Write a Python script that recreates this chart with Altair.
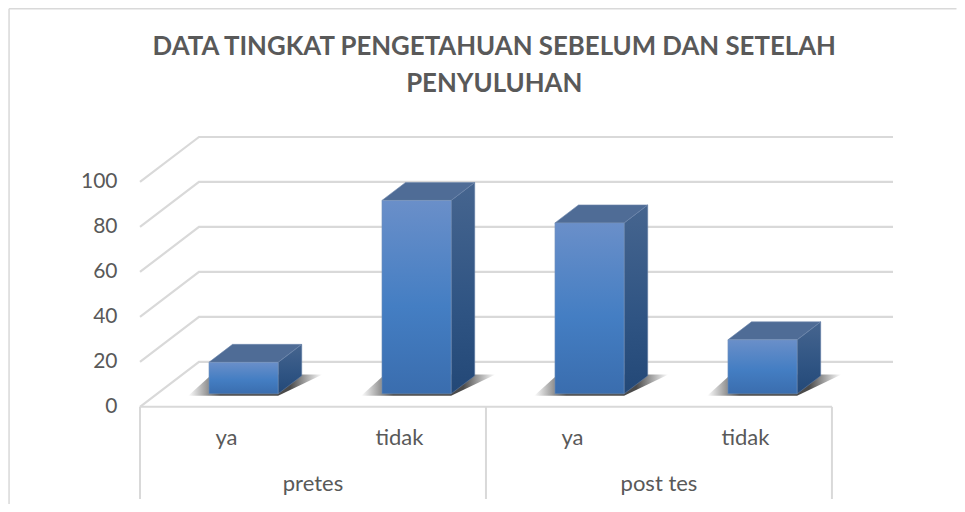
import altair as alt
import pandas as pd

# ---- chart values ----
groups = ["pretes", "post tes"]
categories = ["ya", "tidak", "ya", "tidak"]
values = [14, 86, 76, 24]
ticks = [0, 20, 40, 60, 80, 100]
title_lines = ["DATA TINGKAT PENGETAHUAN SEBELUM DAN SETELAH", "PENYULUHAN"]

# ---- oblique projection of the 3-D box scene, in axis units ----
DEPTH_X = 0.341     # categories shifted per full floor depth
DEPTH_Y = 20.0      # value units raised per full floor depth
X_MAX = 4.353
Y_MIN, Y_MAX = -41, 120
HALF = 0.2
Z0, Z1 = 0.289, 0.689
FONT = "Lato"
TXT = "#595959"
GRID = "#d9d9d9"

xs = alt.Scale(domain=[0, X_MAX], nice=False, zero=False)
ys = alt.Scale(domain=[Y_MIN, Y_MAX], nice=False, zero=False)
X = alt.X("x:Q", scale=xs, axis=None)
Y = alt.Y(
    "y:Q",
    scale=ys,
    axis=alt.Axis(
        values=ticks,
        title=None,
        domain=False,
        ticks=False,
        grid=False,
        labelFont=FONT,
        labelFontSize=21,
        labelColor=TXT,
        labelPadding=23,
    ),
)


def px(c, z):
    return c + z * DEPTH_X


def py(v, z):
    return v + z * DEPTH_Y


def grad(stops, horizontal=False):
    return alt.LinearGradient(
        gradient="linear",
        x1=0, y1=0,
        x2=1 if horizontal else 0,
        y2=0 if horizontal else 1,
        stops=[alt.GradientStop(color=c, offset=o) for c, o in stops],
    )


front, top, side, shadow, grid = [], [], [], [], []
for i, v in enumerate(values):
    c = i + 0.5
    l, r = c - HALF, c + HALF
    front.append(dict(b=i, x=px(l, Z0), x2=px(r, Z0), y=py(0, Z0), y2=py(v, Z0)))
    for z in (Z0, Z1):
        top.append(dict(b=i, x=px(l, z), x2=px(r, z), y=py(v, z)))
        side.append(dict(b=i, x=px(r, z), y=py(0, z), y2=py(v, z)))
    shadow.append(dict(b=i, x=px(l, Z0) - 0.12, x2=px(r, Z0) + 0.0, y=py(0, Z0) - 0.9))
    shadow.append(dict(b=i, x=px(l, Z1) - 0.12, x2=px(r, Z1) + 0.12, y=py(0, Z1) + 0.6))

for t in ticks:
    grid.append(dict(t=t, o=0, x=0, y=t))
    grid.append(dict(t=t, o=1, x=DEPTH_X, y=t + DEPTH_Y))
    grid.append(dict(t=t, o=2, x=X_MAX, y=t + DEPTH_Y))

grid_layer = (
    alt.Chart(pd.DataFrame(grid))
    .mark_line(color=GRID, strokeWidth=2.2)
    .encode(x=X, y=Y, detail="t:N", order="o:Q")
)

# multi-level category axis lines and chart border
floor_df = pd.DataFrame([dict(x=0, x2=4, y=0)])
floor = alt.Chart(floor_df).mark_rule(color=GRID, strokeWidth=2).encode(x=X, x2="x2:Q", y=Y)
sep_df = pd.DataFrame([dict(x=c, y=0, y2=Y_MIN) for c in (0, 2, 4)])
seps = alt.Chart(sep_df).mark_rule(color=GRID, strokeWidth=2).encode(x=X, y=Y, y2="y2:Q")
B_L, B_T, B_B, B_R = -0.757, 177, -43.5, 4.72
border_v = (
    alt.Chart(pd.DataFrame([dict(x=B_L, y=B_T, y2=B_B)]))
    .mark_rule(color=GRID, strokeWidth=1.5)
    .encode(x=X, y=Y, y2="y2:Q")
)
border_h = (
    alt.Chart(pd.DataFrame([dict(x=B_L, x2=B_R, y=B_T)]))
    .mark_rule(color=GRID, strokeWidth=1.5)
    .encode(x=X, x2="x2:Q", y=Y)
)

shadow_grad = grad(
    [
        ("rgba(40,40,40,0)", 0),
        ("rgba(30,30,30,0.8)", 0.24),
        ("rgba(30,30,30,0.8)", 0.76),
        ("rgba(40,40,40,0)", 1),
    ],
    horizontal=True,
)
shadow_layer = (
    alt.Chart(pd.DataFrame(shadow))
    .mark_area(orient="horizontal", color=shadow_grad)
    .encode(x=X, x2="x2:Q", y=Y, detail="b:N")
)

side_grad = grad([("#46658f", 0), ("#2f5483", 0.6), ("#234877", 1)])
side_layer = (
    alt.Chart(pd.DataFrame(side))
    .mark_area(color=side_grad, stroke="#5f7ba3", strokeWidth=0.6)
    .encode(x=X, y=Y, y2="y2:Q", detail="b:N")
)
top_layer = (
    alt.Chart(pd.DataFrame(top))
    .mark_area(orient="horizontal", color="#4f6c96", stroke="#6f88ac", strokeWidth=0.6)
    .encode(x=X, x2="x2:Q", y=Y, detail="b:N")
)
front_grad = grad([("#6a8fc9", 0), ("#447ec3", 0.55), ("#3a6dae", 1)])
front_layer = (
    alt.Chart(pd.DataFrame(front))
    .mark_rect(color=front_grad, stroke="#7b96bb", strokeWidth=0.5)
    .encode(x=X, x2="x2:Q", y=Y, y2="y2:Q")
)

cat_df = pd.DataFrame([dict(x=i + 0.5, y=-13.8, t=c) for i, c in enumerate(categories)])
grp_df = pd.DataFrame([dict(x=2 * i + 1, y=-34.2, t=g) for i, g in enumerate(groups)])
text_df = pd.concat([cat_df, grp_df])
labels = (
    alt.Chart(text_df)
    .mark_text(font=FONT, fontSize=22, color=TXT, align="center", baseline="middle")
    .encode(x=X, y=Y, text="t:N")
)

title_df = pd.DataFrame([dict(x=2.048, y=160, t=title_lines[0]), dict(x=2.048, y=143.6, t=title_lines[1])])
title_layer = (
    alt.Chart(title_df)
    .mark_text(font=FONT, fontSize=25.8, fontWeight="bold", color=TXT, align="center", baseline="middle")
    .encode(x=X, y=Y, text="t:N")
)

chart = (
    alt.layer(
        grid_layer, border_v, border_h, floor, seps,
        shadow_layer, side_layer, top_layer, front_layer, labels, title_layer,
    )
    .properties(
        width=753,
        height=362,
        padding={"left": 132, "top": 129, "right": 64, "bottom": 5},
        autosize=alt.AutoSizeParams(type="none"),
        background="white",
    )
    .configure_view(stroke=None)
)

chart.save("out.html", embed_options={"renderer": "svg", "actions": False})
